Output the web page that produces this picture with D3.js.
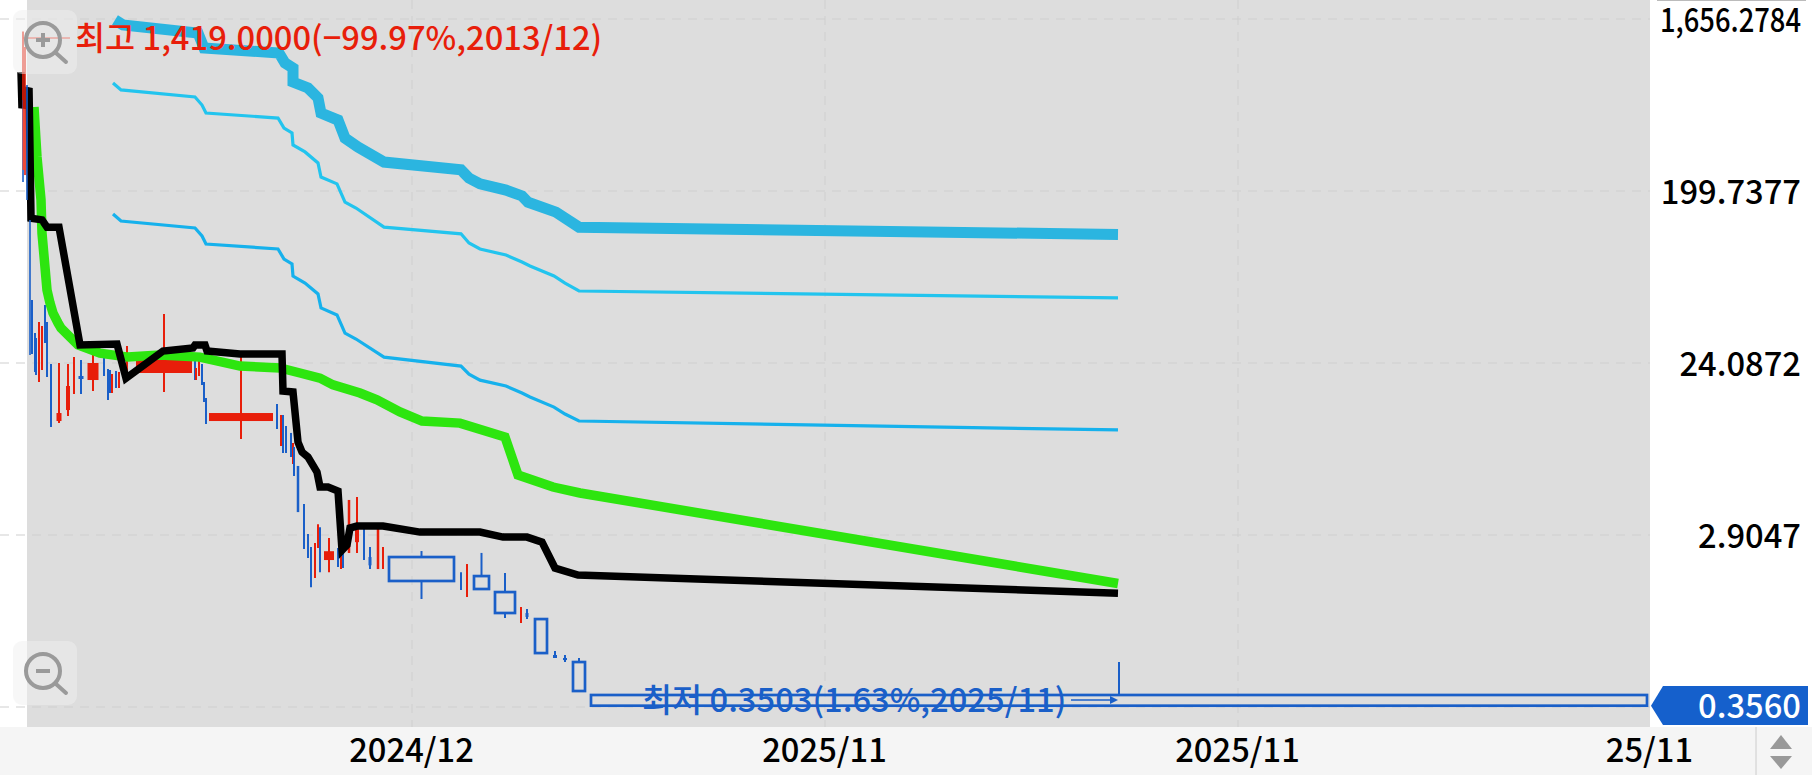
<!DOCTYPE html>
<html><head><meta charset="utf-8">
<style>html,body{margin:0;padding:0;background:#fff;overflow:hidden}svg{display:block}text{font-family:"Noto Sans CJK KR","Noto Sans",sans-serif}</style>
<script src="https://cdnjs.cloudflare.com/ajax/libs/d3/7.8.5/d3.min.js"></script></head><body>
<svg id="c" width="1812" height="775"></svg>
<script>
// Price grid and tick labels
const priceTicks = [1656.2784, 199.7377, 24.0872, 2.9047, 0.3503];
const priceTickLabels = ["1,656.2784", "199.7377", "24.0872", "2.9047"];
const timeTicks = [384, 797, 1210, 1622];
const timeTickLabels = ["2024/12", "2025/11", "2025/11", "25/11"];
const lastPrice = 0.356;
const highLabel = "최고 1,419.0000(−99.97%,2013/12)";
const lowLabel = "최저 0.3503(1.63%,2025/11)";

// Moving-average series: [time slot, price]
const maThick = [[87,1636],[95,1538],[170,1394],[176,1159],[251,1090],[257,964],[265,907],[265,763],[280,709],[290,627],[293,521],[310,478],[317,383],[330,343],[356,285],[433,259],[441,234],[452,218],[478,202],[494,188],[500,174],[528,154],[551,128],[1090,117]];
const maThinUpper = [[85,754],[93,692],[167,635],[174,575],[178,521],[250,490],[256,433.5],[264,408],[265,352],[277,323],[290,282],[293,237],[309,218],[317,174.4],[328,162],[356,128],[433,118],[441,105.4],[452,97.9],[478,90.9],[494,83.4],[502,79.4],[526,70.2],[537,64.4],[551,58.4],[1090,53.6]];
const maThinLower = [[85,150.6],[93,138],[167,126.7],[174,114.9],[178,104.1],[250,97.9],[256,86.5],[264,81.4],[265,70.2],[277,64.4],[290,56.3],[293,47.4],[309,43.5],[317,34.8],[328,32.35],[356,25.9],[433,23.2],[441,21],[452,19.5],[478,18.15],[494,16.65],[502,15.85],[526,14],[537,12.86],[551,11.8],[1090,10.57]];
const maGreen = [[6,561],[9,303],[13,179],[14,119],[19,59.1],[22,50.4],[25,44.5],[30,39.4],[33,37],[50,30.05],[72,27.2],[100,25.9],[132,26.6],[172,25.9],[212,23.2],[252,22.65],[272,21.3],[292,20],[305,18.4],[332,16.65],[349,15.3],[372,13.2],[394,11.8],[432,11.5],[477,9.7],[490,6.07],[525,5.24],[552,4.87],[1090,1.6]];
const maBlack = [[-7,863],[-6,554],[-4,612],[1,709],[2,331],[3,143],[14,140],[19,128],[31,128],[41,64.4],[52,30.05],[89,30.4],[98,19.98],[135,27.9],[165,29],[167,30.05],[177,30.05],[179,27.9],[212,26.9],[254,26.9],[255,17.07],[265,16.86],[270,9.11],[274,8.06],[280,7.58],[289,6.3],[292,5.24],[300,5.24],[310,4.99],[314,2.41],[319,2.57],[322,3.165],[329,3.24],[355,3.24],[392,3.01],[452,3.01],[475,2.83],[499,2.83],[514,2.66],[527,1.935],[550,1.775],[1090,1.42]];

// Earliest candles, in front of the lines: [slot, span, open, close, high, low]
const candlesEarly = [[-5,1.5,1000,223,1000,223],[-5,1.2,612,1419,1419,612],[-3,2,243,1174,1174,243],[-4,3,259,918,918,259],[-1,1.5,736,179,736,179],[2,1.5,140,26.6,140,26.6]];
// Remaining candles: [slot, span, open, close, high, low]
const candlesMain = [[4,1.5,52.3,26.9,52.3,26.9],[7,2,34.8,21.56,34.8,21.56],[8,1.5,32.8,20.8,32.8,20.8],[11,1.5,19.06,39.9,39.9,19.06],[14,1.5,22.1,38,38,22.1],[17,1.5,49.1,30.8,49.1,30.8],[19,1.5,39.9,20.27,39.9,20.27],[23,1.5,23.8,10.96,23.8,10.96],[31,5,11.8,13.02,24.09,11.5],[40,4,13.51,18.15,23.8,12.55],[46,1.5,16.45,25.9,25.9,16.45],[53,5,20.53,19.78,25,16.45],[65,11,19.54,24.09,29.3,17.07],[76,1.5,27.9,20.53,27.9,20.53],[80,1.5,22.37,15.28,22.37,15.28],[82,1.5,22.1,16.65,22.1,16.65],[84,1.5,16.65,21.04,21.04,16.65],[88,1.5,21.83,17.71,21.83,17.71],[91,1.5,17.71,21.56,21.56,17.71],[99,4,19.78,20.27,29.7,19.3],[136,56,21.3,25,44,16.86],[167,1.5,25.6,19.54,25.6,19.54],[168,1.5,19.54,22.65,22.65,19.54],[171,1.5,20.53,26.25,26.25,20.53],[174,1.5,23.8,18.4,23.8,18.4],[176,1.5,19.06,14.9,19.06,14.9],[178,1.5,15.66,11.37,15.66,11.37],[213,64,11.8,13.02,25.9,9.46],[249,1.5,14.55,10.7,14.55,10.7],[253,2,8.68,12.7,12.7,8.68],[255,1.5,12.7,7.96,12.7,7.96],[258,1.5,11.09,7.96,11.09,7.96],[263,2,10.19,7.58,10.19,7.58],[265,1.5,6.95,9,9,6.95],[266,1.5,8.57,6,8.57,6],[270,2.5,6.79,3.85,6.79,3.85],[276,1.5,4.25,2.444,4.25,2.444],[280,1.5,2.94,2.19,2.94,2.19],[283,1.5,2.505,1.53,2.505,1.53],[287,1.5,1.71,2.63,2.63,1.71],[290,1.5,2.475,3.32,3.32,2.475],[292,1.5,3.2,1.84,3.2,1.84],[301,10,2.135,2.38,2.8,1.84],[310,1.5,2.475,1.96,2.475,1.96],[313,1.5,1.911,2.475,2.475,1.911],[315,1.5,2.7,1.935,2.7,1.935],[321,2.5,2.33,4.47,4.47,2.33],[329,4,2.66,3.2,4.63,2.33],[336,1.5,3.2,2.135,3.2,2.135],[342,3,2.215,2,2.505,1.911],[350,2.5,1.911,3.126,3.126,1.911],[355,1.5,1.911,2.505,2.505,1.911],[393.5,65,2.215,1.65,2.385,1.322],[433,1.5,1.84,1.477,1.84,1.477],[439,2,1.355,2.03,2.03,1.355],[453.5,15,1.753,1.495,2.33,1.477],[477,20,1.44,1.113,1.82,1.047],[493,1.5,0.9835,1.198,1.198,0.9835],[499,3,1.113,1.06,1.169,1.033],[513,12,1.033,0.68,1.046,0.672],[527,4,0.664,0.64,0.697,0.64],[537,4,0.64,0.624,0.664,0.6092],[551,12,0.609,0.4264,0.64,0.421],[1091,1056,0.406,0.356,0.609,0.3503]];

const RED = "#e81e0a", BLUE = "#1a5fc8", GRID = "#cfcfcf";
const W = 1812, H = 775, plotL = 27, plotR = 1650, plotB = 727;
const x = d3.scaleLinear().domain([0, 1622]).range([28, 1650]);
const y = d3.scaleLog().domain([1656.2784, 0.3503]).range([19, 707]);
const svg = d3.select("#c");

svg.append("rect").attr("x", plotL).attr("y", 0).attr("width", plotR - plotL).attr("height", plotB).attr("fill", "#dddddd");
svg.append("rect").attr("x", 0).attr("y", plotB).attr("width", W).attr("height", H - plotB).attr("fill", "#f5f5f5");
svg.append("line").attr("x1", 1657).attr("x2", 1806).attr("y1", 0.5).attr("y2", 0.5).attr("stroke", "#bbbbbb");

// grid
svg.append("g").selectAll("line").data(priceTicks).join("line")
  .attr("x1", 0).attr("x2", plotR).attr("y1", d => y(d)).attr("y2", d => y(d))
  .attr("stroke", GRID).attr("stroke-width", 1).attr("stroke-dasharray", "9 7");
svg.append("g").selectAll("line").data(timeTicks.slice(0, 3)).join("line")
  .attr("x1", d => x(d)).attr("x2", d => x(d)).attr("y1", 0).attr("y2", plotB)
  .attr("stroke", GRID).attr("stroke-width", 1).attr("stroke-dasharray", "9 7");

function drawCandles(rows, cls, opacity) {
  const g = svg.append("g").attr("class", cls).attr("opacity", opacity);
  rows.forEach(r => {
    const [t, span, o, c, h, l] = r;
    const up = c >= o, col = up ? RED : BLUE;
    const top = y(Math.max(o, c)), bot = y(Math.min(o, c));
    const hollow = !up && span >= 8;
    const wick = (a, b) => g.append("line").attr("x1", x(t)).attr("x2", x(t)).attr("y1", a).attr("y2", b)
      .attr("stroke", col).attr("stroke-width", 2);
    if (hollow) {
      wick(y(h), top); wick(bot, y(l));
      g.append("rect").attr("x", x(t) - span / 2).attr("y", top).attr("width", span).attr("height", bot - top)
        .attr("fill", "none").attr("stroke", col).attr("stroke-width", 2.7);
    } else {
      wick(y(h), y(l));
      if (span > 1.5) g.append("rect").attr("x", x(t) - span / 2).attr("y", top).attr("width", span)
        .attr("height", Math.max(bot - top, 1)).attr("fill", col);
    }
  });
}
drawCandles(candlesMain, "candles", 1);

const line = d3.line().x(d => x(d[0])).y(d => y(d[1])).curve(d3.curveLinear);
const series = [
  [maThinLower, "#16b1ec", 3.2],
  [maThinUpper, "#22c4ee", 3.2],
  [maThick, "#2bb5e0", 11],
  [maGreen, "#2de50f", 9.5],
  [maBlack, "#000000", 7.5]
];
series.forEach(s => svg.append("path").attr("d", line(s[0])).attr("fill", "none")
  .attr("stroke", s[1]).attr("stroke-width", s[2]).attr("stroke-linejoin", "miter").attr("stroke-miterlimit", 3));

drawCandles(candlesEarly, "candles-early", 0.8);

// axes
const FS = "32.7px";
const yAxis = d3.axisRight(y).tickValues(priceTicks.slice(0, 4)).tickSize(0)
  .tickFormat((d, i) => priceTickLabels[i]);
const ya = svg.append("g").attr("transform", "translate(1801,2)").call(yAxis);
ya.select(".domain").remove();
ya.selectAll("text").attr("x", 0).attr("text-anchor", "end").attr("fill", "#000")
  .style("font-size", FS).style("font-weight", 500);
ya.selectAll("text").filter((d, i) => i === 0).attr("textLength", 141).attr("lengthAdjust", "spacingAndGlyphs");
const xAxis = d3.axisBottom(x).tickValues(timeTicks).tickSize(0)
  .tickFormat((d, i) => timeTickLabels[i]);
const xa = svg.append("g").attr("transform", `translate(-1,${plotB})`).call(xAxis);
xa.select(".domain").remove();
xa.selectAll("text").attr("y", 0).attr("dy", "26px").attr("dominant-baseline", "middle").attr("fill", "#000")
  .style("font-size", FS).style("font-weight", 500);

// high / low annotations
svg.append("line").attr("x1", 23).attr("x2", 70).attr("y1", 38).attr("y2", 38).attr("stroke", RED).attr("stroke-width", 1);
svg.append("text").attr("x", 75).attr("y", 50).attr("fill", RED).style("font-size", FS).style("font-weight", 500).text(highLabel);
svg.append("text").attr("x", 642).attr("y", 712).attr("fill", BLUE).style("font-size", FS).style("font-weight", 500).text(lowLabel);
svg.append("line").attr("x1", 1071).attr("x2", 1114).attr("y1", 700).attr("y2", 700).attr("stroke", BLUE).attr("stroke-width", 1.5);
svg.append("path").attr("d", "M1110,696L1118,700L1110,704Z").attr("fill", BLUE);

// price tag
const ty = y(lastPrice);
svg.append("path").attr("d", `M${plotR+1},${ty}L1663,686L1808,686L1808,725L1663,725Z`).attr("fill", "#1560cc");
svg.append("text").attr("x", 1801).attr("y", ty + 12).attr("text-anchor", "end").attr("fill", "#fff")
  .style("font-size", FS).style("font-weight", 500).text("0.3560");

// scroll widget
svg.append("line").attr("x1", 1756).attr("x2", 1756).attr("y1", plotB).attr("y2", H).attr("stroke", "#cccccc");
svg.append("path").attr("d", "M1781,735L1792,749L1770,749Z").attr("fill", "#999");
svg.append("path").attr("d", "M1770,756L1792,756L1781,769Z").attr("fill", "#999");

// zoom buttons
function zoomBtn(top, plus) {
  const g = svg.append("g");
  g.append("rect").attr("x", 13).attr("y", top).attr("width", 64).attr("height", 64).attr("rx", 9).attr("fill", "rgba(240,240,240,0.5)");
  const cx = 43, cy = top + 30;
  g.append("circle").attr("cx", cx).attr("cy", cy).attr("r", 17).attr("fill", "none").attr("stroke", "#9a9a9a").attr("stroke-width", 4);
  g.append("line").attr("x1", cx + 13).attr("y1", cy + 13).attr("x2", cx + 23).attr("y2", cy + 22).attr("stroke", "#9a9a9a").attr("stroke-width", 4).attr("stroke-linecap", "round");
  g.append("line").attr("x1", cx - 7).attr("x2", cx + 7).attr("y1", cy).attr("y2", cy).attr("stroke", "#9a9a9a").attr("stroke-width", 4);
  if (plus) g.append("line").attr("x1", cx).attr("x2", cx).attr("y1", cy - 7).attr("y2", cy + 7).attr("stroke", "#9a9a9a").attr("stroke-width", 4);
}
zoomBtn(10, true);
zoomBtn(641, false);
</script></body></html>
